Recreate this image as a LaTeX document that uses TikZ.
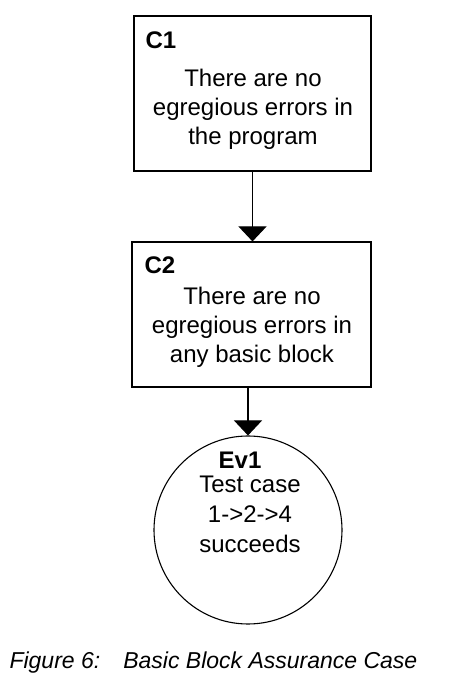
\documentclass[tikz,border=0pt]{standalone}
\usepackage{fontspec}
\setmainfont{Liberation Sans}
\usetikzlibrary{arrows.meta,positioning}
\begin{document}
\begin{tikzpicture}[x=1pt,y=1pt,line width=1.1pt,
claim/.style={draw,rectangle,minimum width=237pt,minimum height=155pt},
evid/.style={draw,circle,minimum size=188pt,inner sep=0pt},
tag/.style={font=\fontsize{24}{29}\selectfont\bfseries,inner sep=0pt},
body/.style={font=\fontsize{24}{29}\selectfont,align=center,inner sep=0pt},
link/.style={-{Triangle[width=28pt,length=15pt]}}]
\useasboundingbox(0,0)rectangle(468,685);
\node[claim](C1)at(252.5,591.5){};
\node[claim,minimum width=239pt,minimum height=145pt](C2)at(251.5,370.5){};
\node[evid](Ev1)at(248,155){};
\node[tag,anchor=west](C1tag)at(145,645){C1};
\node[tag,anchor=west](C2tag)at(144,420){C2};
\node[tag](Ev1tag)at(240,225){Ev1};
\node[body](C1txt)at(253,576){There are no\\egregious errors in\\the program};
\node[body](C2txt)at(252,357.5){There are no\\egregious errors in\\any basic block};
\node[body,font=\fontsize{24}{30}\selectfont](Ev1txt)at(250,170.5){Test case\\1->2->4\\succeeds};
\draw[link](C1.south)--(C1.south|-C2.north);
\draw[link](C2.south-|Ev1.north)--(Ev1.north);
\node[font=\fontsize{23}{26}\selectfont\itshape,anchor=west,inner sep=0pt](cap)at(9,22)
{Figure 6:\hspace{1em}Basic Block Assurance Case};
\end{tikzpicture}
\end{document}
